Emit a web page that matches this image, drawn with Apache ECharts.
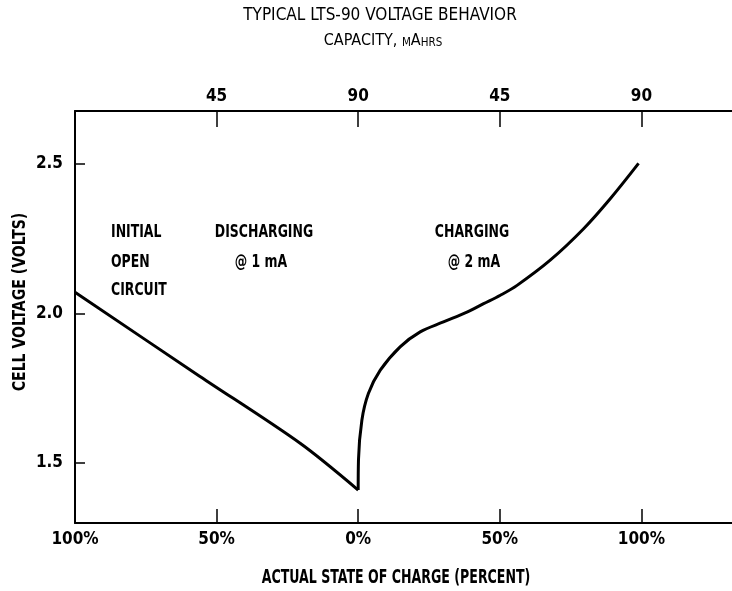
<!DOCTYPE html>
<html>
<head>
<meta charset="utf-8">
<script src="https://cdn.jsdelivr.net/npm/echarts@6/dist/echarts.min.js"></script>
<style>
html,body{margin:0;padding:0;background:#fff;}
#chart{width:732px;height:591px;}
</style>
</head>
<body>
<div id="chart"></div>
<script>
// x position: 0 = 100% (start of discharge), 100 = 0% charge, 200 = 100% after charging
const xTickValues = [50, 100, 150, 200];
const bottomLabelValues = [0, 50, 100, 150, 200];
const bottomLabelTexts = ['100%', '50%', '0%', '50%', '100%'];
const topTickLabels = ['45', '90', '45', '90'];
const yTickValues = [1.5, 2.0, 2.5];

const dischargeX = [0, 44, 79.5, 100];
const dischargeV = [2.07, 1.79, 1.566, 1.41];

const chargeX = [100, 100.1, 101.3, 103.6, 107.8, 114.8, 121.9, 130.1, 138.4, 144.3, 150.2, 156.1, 167.8, 179.6, 189, 199];
const chargeV = [1.41, 1.51, 1.643, 1.732, 1.81, 1.888, 1.938, 1.971, 2.004, 2.032, 2.06, 2.093, 2.177, 2.282, 2.382, 2.5];

const BOLD = '"DejaVu Sans Condensed", "DejaVu Sans", sans-serif';
const TITLEF = '"DejaVu Sans Condensed", "DejaVu Sans", sans-serif';

function pick(vals, texts) {
  return function (v) {
    for (let i = 0; i < vals.length; i++) if (Math.abs(vals[i] - v) < 1e-6) return texts[i];
    return '';
  };
}

const chart = echarts.init(document.getElementById('chart'), null, {renderer: 'canvas'});
const axisLine = {show: true, lineStyle: {color: '#000', width: 2}};
function note(text, x, y, align) {
  return {type: 'text', x: x, y: y, scaleX: 0.77,
    style: {text: text, fill: '#000', font: 'bold 18px ' + BOLD, textAlign: align, textVerticalAlign: 'middle'}};
}
chart.setOption({
  animation: false,
  backgroundColor: '#fff',
  grid: {left: 75, right: 0, top: 111, bottom: 68},
  xAxis: [
    {
      type: 'value', position: 'bottom', min: 0, max: 232,
      axisLine: axisLine,
      axisTick: {show: true, inside: true, length: 14, lineStyle: {color: '#000', width: 1.5}, customValues: xTickValues},
      axisLabel: {show: true, customValues: bottomLabelValues, formatter: pick(bottomLabelValues, bottomLabelTexts),
        color: '#000', fontFamily: BOLD, fontWeight: 'bold', fontSize: 17, margin: 8},
      splitLine: {show: false}
    },
    {
      type: 'value', position: 'top', min: 0, max: 232,
      axisLine: axisLine,
      axisTick: {show: true, inside: true, length: 16, lineStyle: {color: '#000', width: 1.5}, customValues: xTickValues},
      axisLabel: {show: true, customValues: xTickValues, formatter: pick(xTickValues, topTickLabels),
        color: '#000', fontFamily: BOLD, fontWeight: 'bold', fontSize: 17, margin: 6},
      splitLine: {show: false}
    }
  ],
  yAxis: {
    type: 'value', min: 1.3, max: 2.675,
    axisLine: axisLine,
    axisTick: {show: true, inside: true, length: 10, lineStyle: {color: '#000', width: 1.5}, customValues: yTickValues},
    axisLabel: {show: true, customValues: yTickValues, formatter: v => v.toFixed(1),
      color: '#000', fontFamily: BOLD, fontWeight: 'bold', fontSize: 17, margin: 12},
    splitLine: {show: false}
  },
  series: [
    {
      type: 'line', name: 'discharging', xAxisIndex: 0, showSymbol: false, smooth: 0.3,
      lineStyle: {color: '#000', width: 3}, itemStyle: {color: '#000'},
      data: dischargeX.map((x, i) => [x, dischargeV[i]])
    },
    {
      type: 'line', name: 'charging', xAxisIndex: 0, showSymbol: false, smooth: 0.35,
      lineStyle: {color: '#000', width: 3}, itemStyle: {color: '#000'},
      data: chargeX.map((x, i) => [x, chargeV[i]])
    }
  ],
  graphic: [
    {type: 'text', x: 380, y: 16, style: {text: 'TYPICAL LTS-90 VOLTAGE BEHAVIOR', fill: '#000', font: '17px ' + TITLEF, textAlign: 'center', textVerticalAlign: 'middle'}},
    {type: 'text', x: 383, y: 41, style: {text: 'CAPACITY, {s|M}A{s|HRS}', fill: '#000', font: '16px ' + TITLEF, textAlign: 'center', textVerticalAlign: 'middle',
      rich: {s: {fontSize: 11.5, fontFamily: TITLEF, fill: '#000', verticalAlign: 'bottom'}}}},
    note('INITIAL', 111, 232, 'left'),
    note('OPEN', 111, 262, 'left'),
    note('CIRCUIT', 111, 290, 'left'),
    note('DISCHARGING', 264, 232, 'center'),
    note('@ 1 mA', 261, 262, 'center'),
    note('CHARGING', 472, 232, 'center'),
    note('@ 2 mA', 474, 262, 'center'),
    {type: 'text', x: 396, y: 578, scaleX: 0.7,
      style: {text: 'ACTUAL STATE OF CHARGE (PERCENT)', fill: '#000', font: 'bold 20px ' + BOLD, textAlign: 'center', textVerticalAlign: 'middle'}},
    {type: 'text', x: 21, y: 302, rotation: Math.PI / 2, scaleX: 0.92,
      style: {text: 'CELL VOLTAGE (VOLTS)', fill: '#000', font: 'bold 17px ' + BOLD, textAlign: 'center', textVerticalAlign: 'middle'}}
  ]
});
</script>
</body>
</html>
